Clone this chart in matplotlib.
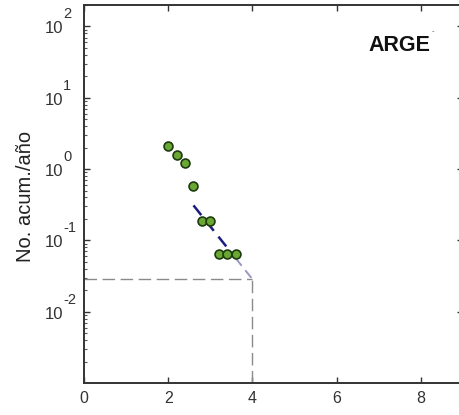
import numpy as np
import matplotlib
matplotlib.use("Agg")
import matplotlib.pyplot as plt
from matplotlib.ticker import LogLocator, NullFormatter, FixedLocator
from matplotlib.transforms import offset_copy

plt.rcParams['font.family'] = ['Liberation Sans', 'DejaVu Sans']

# Cumulative annual number of events vs magnitude
magnitude = [2.0, 2.2, 2.4, 2.6, 2.8, 3.0, 3.2, 3.4, 3.6]
cum_rate = [2.1, 1.6, 1.2, 0.57, 0.19, 0.19, 0.064, 0.064, 0.064]

# Gutenberg-Richter fit: log10 N = a - b M
fit_a = 1.415
fit_b = 0.74
fit_range = [2.6, 3.6]      # fitted interval
extrap_range = [3.6, 4.0]   # extrapolation
m_ref = 4.0

x_ticks = [0, 2, 4, 6, 8]
y_exponents = [-2, -1, 0, 1, 2]


def gr(m):
    return 10 ** (fit_a - fit_b * np.asarray(m))


fig = plt.figure(figsize=(4.59, 4.15), dpi=100)
ax = fig.add_axes([84 / 459, 32 / 415, 379 / 459, 378 / 415])
ax.set_yscale('log')
ax.set_xlim(0, 9)
ax.set_ylim(1e-3, 200)

n_ref = float(gr(m_ref))
ax.plot([0, m_ref], [n_ref, n_ref], color='#8a8a8a', lw=1.0,
        dashes=(9, 4), zorder=2)
ax.plot([m_ref, m_ref], [1e-3, n_ref], color='#8a8a8a', lw=1.0,
        dashes=(9, 4), zorder=2)

xs = np.array(fit_range)
ax.plot(xs, gr(xs), color='#1c1c80', lw=1.8, dashes=(5, 3), zorder=3)
xe = np.array(extrap_range)
ax.plot(xe, gr(xe), color='#9a98c0', lw=1.4, dashes=(5, 3), zorder=3)

ax.plot(magnitude, cum_rate, linestyle='none', marker='o', ms=6.4,
        mfc='#6aa733', mec='#1e3a10', mew=1.2, zorder=4)

ax.text(0.831, 0.894, 'ARGE', transform=ax.transAxes, fontsize=15.5,
        fontweight='bold', ha='center', va='center', color='#111111')
ax.text(0.921, 0.928, '-', transform=ax.transAxes, fontsize=5.5,
        ha='center', va='center', color='#555555')

ax.set_xticks(x_ticks)
ax.set_xticklabels([str(t) for t in x_ticks])
ax.yaxis.set_major_locator(FixedLocator([10.0 ** e for e in y_exponents]))
ax.yaxis.set_major_formatter(NullFormatter())
ax.yaxis.set_minor_locator(LogLocator(base=10, subs=np.arange(2, 10), numticks=20))
ax.yaxis.set_minor_formatter(NullFormatter())

# power-of-ten labels: base "10" plus a raised exponent
ytr = ax.get_yaxis_transform()
base_tr = offset_copy(ytr, fig=fig, x=0, y=-5.0, units='points')
exp_tr = offset_copy(ytr, fig=fig, x=0, y=5.8, units='points')
xlab = (63 - 84) / 379
for e in y_exponents:
    ax.text(xlab, 10.0 ** e, '10', transform=base_tr, ha='right',
            va='baseline', fontsize=12, color='#333333', clip_on=False)
    ax.text(xlab, 10.0 ** e, str(e), transform=exp_tr, ha='left',
            va='baseline', fontsize=10.5, color='#333333', clip_on=False)

ax.tick_params(axis='both', which='major', direction='in', length=4,
               width=1.0, colors='#333333', labelcolor='#333333',
               top=True, right=True)
ax.tick_params(axis='x', which='major', labelsize=11.5, pad=6)
ax.tick_params(axis='y', which='minor', direction='in', length=2,
               width=0.8, colors='#555555', right=False)

for sp in ax.spines.values():
    sp.set_linewidth(1.4)
    sp.set_color('#333333')

fig.text(26 / 459, 1 - 196.5 / 415, 'No. acum./año', rotation=90,
         ha='center', va='center', fontsize=14.5, color='#222222')

fig.savefig('out.png', dpi=100)
